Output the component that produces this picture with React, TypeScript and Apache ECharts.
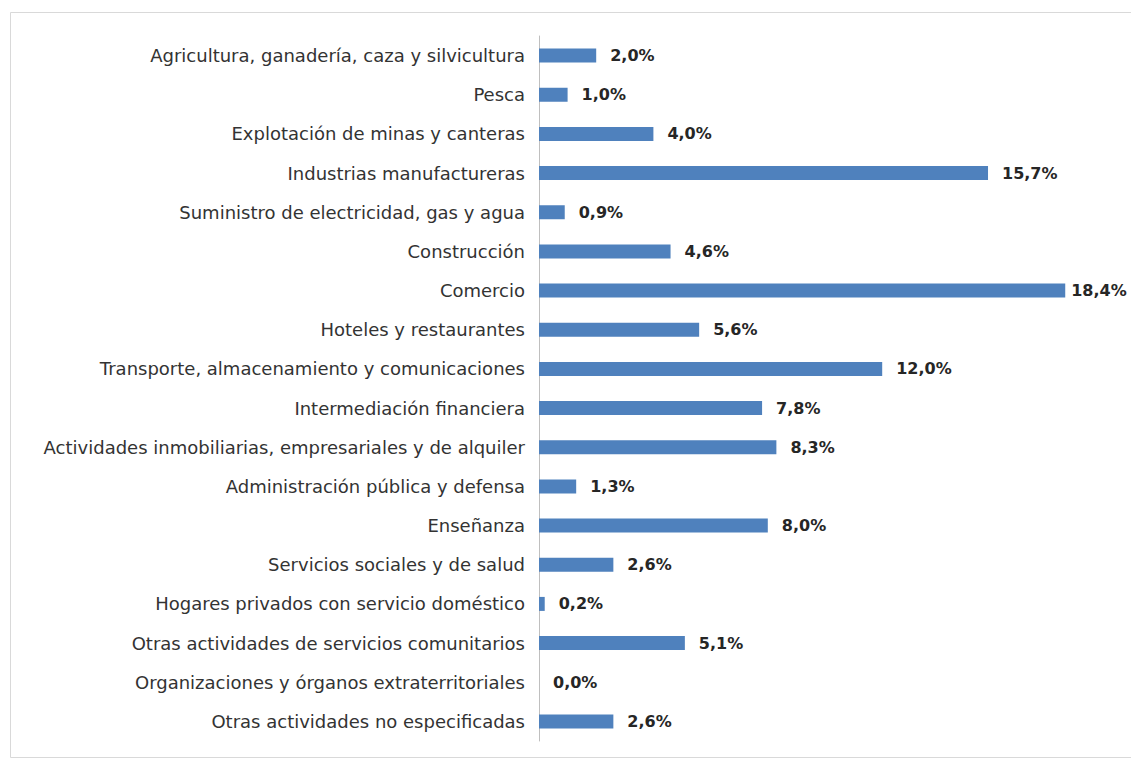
import React, { useEffect, useRef } from "react";
import * as echarts from "echarts";

const categories = [
  "Agricultura, ganadería, caza y silvicultura",
  "Pesca",
  "Explotación de minas y canteras",
  "Industrias manufactureras",
  "Suministro de electricidad, gas y agua",
  "Construcción",
  "Comercio",
  "Hoteles y restaurantes",
  "Transporte, almacenamiento y comunicaciones",
  "Intermediación financiera",
  "Actividades inmobiliarias, empresariales y de alquiler",
  "Administración pública y defensa",
  "Enseñanza",
  "Servicios sociales y de salud",
  "Hogares privados con servicio doméstico",
  "Otras actividades de servicios comunitarios",
  "Organizaciones y órganos extraterritoriales",
  "Otras actividades no especificadas",
];

const values = [2.0, 1.0, 4.0, 15.7, 0.9, 4.6, 18.4, 5.6, 12.0, 7.8, 8.3, 1.3, 8.0, 2.6, 0.2, 5.1, 0.0, 2.6];

export default function App() {
  const ref = useRef<HTMLDivElement>(null);
  useEffect(() => {
    const chart = echarts.init(ref.current!, null, { renderer: "svg" });
    const maxV = Math.max(...values);
    chart.setOption({
      animation: false,
      backgroundColor: "#ffffff",
      graphic: [
        {
          type: "rect",
          shape: { x: 10.5, y: 12.5, width: 1130, height: 745 },
          style: { fill: "none", stroke: "#D9D9D9", lineWidth: 1 },
          silent: true,
        },
      ],
      grid: { left: 539, right: 20, top: 36, bottom: 19 },
      xAxis: {
        type: "value",
        min: 0,
        max: 20,
        show: false,
      },
      yAxis: {
        type: "category",
        inverse: true,
        data: categories,
        axisLine: { show: true, lineStyle: { color: "#BFBFBF", width: 1 } },
        axisTick: { show: false },
        axisLabel: {
          margin: 14,
          color: "#333333",
          fontSize: 18,
          fontFamily: "DejaVu Sans",
        },
      },
      series: [
        {
          type: "bar",
          data: values.map((v) =>
            v === maxV ? { value: v, label: { distance: 6 } } : v
          ),
          barWidth: 14,
          itemStyle: { color: "#4F81BD" },
          label: {
            show: true,
            position: "right",
            distance: 14,
            color: "#262626",
            fontSize: 16,
            fontWeight: "bold",
            fontFamily: "DejaVu Sans",
            formatter: (p: any) => p.value.toFixed(1).replace(".", ",") + "%",
          },
        },
      ],
    });
    return () => chart.dispose();
  }, []);
  return (
    <div
      ref={ref}
      style={{ position: "fixed", left: 0, top: 0, width: 1131, height: 760 }}
    />
  );
}
